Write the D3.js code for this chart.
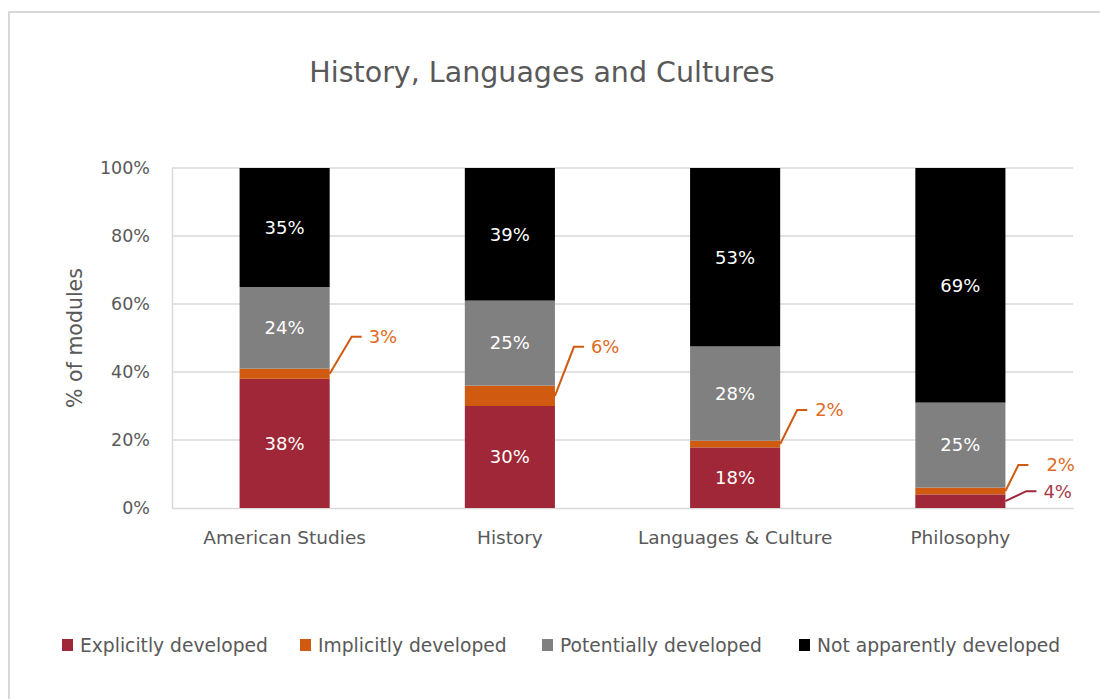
<!DOCTYPE html>
<html>
<head>
<meta charset="utf-8">
<script src="https://cdn.jsdelivr.net/npm/d3@7"></script>
<style>
  html, body { margin: 0; padding: 0; background: #fff; }
  svg { display: block; font-family: "DejaVu Sans", "Open Sans", sans-serif; }
</style>
</head>
<body>
<svg id="chart" width="1100" height="699"></svg>
<script>
// Share of modules per subject, by how the skill is developed
const categories = ["American Studies", "History", "Languages & Culture", "Philosophy"];
const seriesNames = ["Explicitly developed", "Implicitly developed", "Potentially developed", "Not apparently developed"];
const explicitlyDeveloped   = [38, 30, 18, 4];
const implicitlyDeveloped   = [3, 6, 2, 2];
const potentiallyDeveloped  = [24, 25, 28, 25];
const notApparentlyDeveloped = [35, 39, 53, 69];
const yTicks = [0, 20, 40, 60, 80, 100];

const seriesColors = ["#A02737", "#CF5A10", "#808080", "#000000"];
const calloutText = ["#A83A4A", "#E06A22"];
const FONT = "'DejaVu Sans', 'Open Sans', sans-serif";

// Rows for d3.stack
const rows = categories.map((c, i) => ({
  category: c,
  "Explicitly developed": explicitlyDeveloped[i],
  "Implicitly developed": implicitlyDeveloped[i],
  "Potentially developed": potentiallyDeveloped[i],
  "Not apparently developed": notApparentlyDeveloped[i]
}));

const svg = d3.select("#chart");

// chart frame
svg.append("rect")
  .attr("x", 9).attr("y", 12).attr("width", 1110).attr("height", 700)
  .attr("fill", "#fff").attr("stroke", "#d9d9d9").attr("stroke-width", 2);

const plot = { left: 172, right: 1073, top: 168, bottom: 508 };

const x = d3.scaleBand().domain(categories)
  .range([plot.left, plot.right]).paddingInner(0.6).paddingOuter(0.3);
const y = d3.scaleLinear().domain([0, 1]).range([plot.bottom, plot.top]);

// stacked shares, normalised to the whole of each bar
const stacked = d3.stack().keys(seriesNames).offset(d3.stackOffsetExpand)(rows);

// title
svg.append("text")
  .attr("x", 542).attr("y", 82)
  .attr("text-anchor", "middle")
  .attr("font-size", 28.5).attr("fill", "#595959")
  .text("History, Languages and Cultures");

// gridlines
svg.append("g")
  .selectAll("line").data(yTicks.filter(t => t > 0)).join("line")
  .attr("x1", plot.left).attr("x2", plot.right)
  .attr("y1", d => y(d / 100)).attr("y2", d => y(d / 100))
  .attr("stroke", "#d9d9d9").attr("stroke-width", 1.5);

// y axis
const yAxis = d3.axisLeft(y)
  .tickValues(yTicks.map(t => t / 100))
  .tickFormat(d => Math.round(d * 100) + "%")
  .tickSize(0).tickPadding(22);
const gy = svg.append("g").attr("transform", `translate(${plot.left},0)`).call(yAxis);
gy.select(".domain").attr("stroke", "#d9d9d9").attr("stroke-width", 1.5);
gy.selectAll("text").attr("font-size", 17.5).attr("fill", "#595959")
  .attr("font-family", FONT);

// x axis
const xAxis = d3.axisBottom(x).tickSize(0).tickPadding(23);
const gx = svg.append("g").attr("transform", `translate(0,${plot.bottom})`).call(xAxis);
gx.select(".domain").attr("stroke", "#d9d9d9").attr("stroke-width", 1.5);
gx.selectAll("text").attr("font-size", 18.5).attr("fill", "#595959")
  .attr("font-family", FONT);

// axis title
svg.append("text")
  .attr("transform", `translate(82,${(plot.top + plot.bottom) / 2}) rotate(-90)`)
  .attr("text-anchor", "middle")
  .attr("font-size", 20.5).attr("fill", "#595959")
  .text("% of modules");

// bars
const layers = svg.append("g").selectAll("g").data(stacked).join("g")
  .attr("fill", (d, i) => seriesColors[i]);
layers.selectAll("rect").data(d => d).join("rect")
  .attr("x", d => x(d.data.category))
  .attr("width", x.bandwidth())
  .attr("y", d => y(d[1]))
  .attr("height", d => y(d[0]) - y(d[1]));

// which segments are labelled outside the bar with a leader line
const calloutSegments = [
  { series: 1, cat: 0, dx: 22, dy: -37, tx: 39 },
  { series: 1, cat: 1, dx: 19, dy: -49, tx: 36 },
  { series: 1, cat: 2, dx: 17, dy: -34, tx: 35 },
  { series: 1, cat: 3, dx: 13, dy: -26, tx: 41 },
  { series: 0, cat: 3, dx: 21, dy: -10, tx: 38 }
];
const isCallout = (s, c) => calloutSegments.some(o => o.series === s && o.cat === c);

// in-bar labels
stacked.forEach((layer, s) => {
  layer.forEach((d, c) => {
    if (isCallout(s, c)) return;
    svg.append("text")
      .attr("x", x(d.data.category) + x.bandwidth() / 2)
      .attr("y", y((d[0] + d[1]) / 2))
      .attr("dy", "0.35em")
      .attr("text-anchor", "middle")
      .attr("font-size", 18).attr("fill", "#fff")
      .text(d.data[seriesNames[s]] + "%");
  });
});

// leader-line labels
calloutSegments.forEach(o => {
  const d = stacked[o.series][o.cat];
  const x0 = x(d.data.category) + x.bandwidth();
  const y0 = y((d[0] + d[1]) / 2);
  const lineColor = seriesColors[o.series];
  const txtColor = o.series === 0 ? calloutText[0] : calloutText[1];
  svg.append("polyline")
    .attr("points", [[x0, y0], [x0 + o.dx, y0 + o.dy], [x0 + o.dx + 10, y0 + o.dy]].map(p => p.join(",")).join(" "))
    .attr("fill", "none").attr("stroke", lineColor).attr("stroke-width", 2);
  svg.append("text")
    .attr("x", x0 + o.tx).attr("y", y0 + o.dy)
    .attr("dy", "0.35em")
    .attr("font-size", 18).attr("fill", txtColor)
    .text(d.data[seriesNames[o.series]] + "%");
});

// legend
const legendX = [62, 300, 542, 799];
const legend = svg.append("g").selectAll("g").data(seriesNames).join("g")
  .attr("transform", (d, i) => `translate(${legendX[i]},645)`);
legend.append("rect")
  .attr("x", 0).attr("y", -6).attr("width", 11).attr("height", 12)
  .attr("fill", (d, i) => seriesColors[i]);
legend.append("text")
  .attr("x", 18).attr("dy", "0.35em")
  .attr("font-size", 18.7).attr("fill", "#595959")
  .text(d => d);
</script>
</body>
</html>
